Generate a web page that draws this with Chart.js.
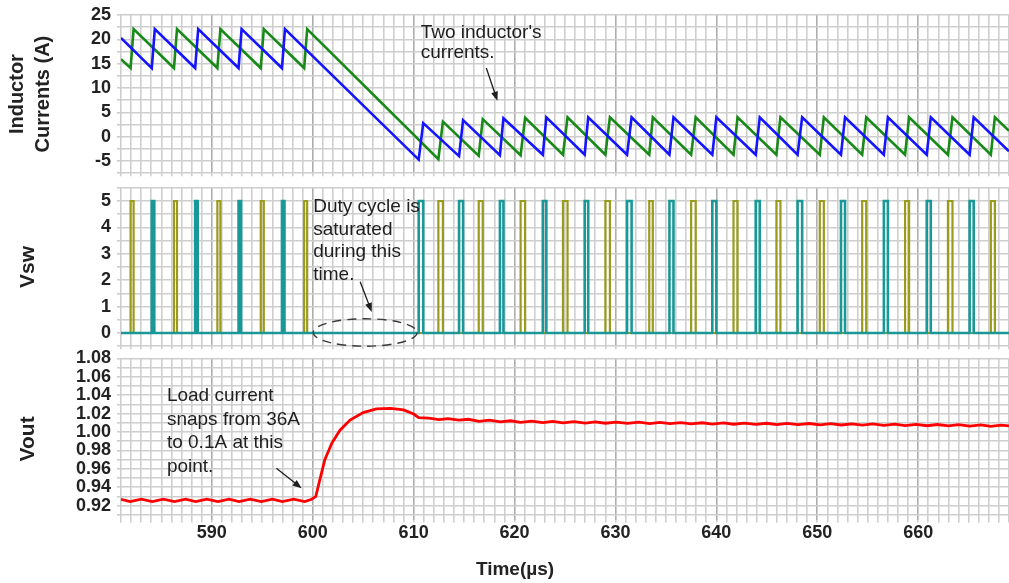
<!DOCTYPE html>
<html><head><meta charset="utf-8">
<script src="https://cdn.jsdelivr.net/npm/chart.js@4.4.0/dist/chart.umd.min.js"></script>
<style>
html,body{margin:0;padding:0;background:#fff;}
#wrap{position:relative;width:1009px;height:583px;overflow:hidden;background:#fff;}
canvas{position:absolute;left:0;}
</style></head><body>
<div id="wrap">
<canvas id="c1" width="1009" height="178" style="top:0px;width:1009px;height:178px"></canvas>
<canvas id="c2" width="1009" height="172" style="top:178px;width:1009px;height:172px"></canvas>
<canvas id="c3" width="1009" height="233" style="top:350px;width:1009px;height:233px"></canvas>
</div>
<script>
// ---------------- data ----------------
const timeMin = 581, timeMax = 669;
const xTickLabels = [590, 600, 610, 620, 630, 640, 650, 660];

// Inductor current 1 (blue): vertex times (µs) and values (A)
const blueT = [581, 584.05, 584.35, 588.35, 588.65, 592.65, 592.95, 596.95, 597.25,
  610.5, 610.95, 614.5, 614.9, 618.55, 618.9, 622.8, 623.15, 626.95, 627.3, 631.15, 631.6,
  635.35, 635.75, 639.6, 640.0, 643.9, 644.3, 648.05, 648.5, 652.35, 652.75, 656.6, 657.0,
  660.85, 661.25, 665.1, 665.5, 669];
const blueI = [20.3, 14.1, 22.1, 14.1, 22.1, 14.1, 22.1, 14.1, 22.1,
  -4.7, 2.8, -4.0, 3.4, -3.8, 3.8, -3.7, 4.0, -3.7, 4.0, -3.7, 4.0,
  -3.7, 4.0, -3.7, 4.0, -3.7, 4.0, -3.7, 4.0, -3.7, 4.0, -3.7, 4.0,
  -3.7, 4.0, -3.7, 4.0, -3.0];

// Inductor current 2 (green)
const greenT = [581, 581.95, 582.25, 586.25, 586.55, 590.55, 590.85, 594.85, 595.15, 599.15, 599.45,
  612.45, 612.9, 616.45, 616.85, 620.6, 621.05, 624.8, 625.25, 629.0, 629.45, 633.35, 633.7,
  637.5, 637.95, 641.7, 642.1, 645.95, 646.35, 650.25, 650.65, 654.45, 654.85, 658.7, 659.1,
  662.95, 663.4, 667.2, 667.6, 669];
const greenI = [15.9, 14.1, 22.1, 14.1, 22.1, 14.1, 22.1, 14.1, 22.1, 14.1, 22.1,
  -4.6, 3.1, -3.9, 3.6, -3.8, 3.9, -3.7, 4.0, -3.7, 4.0, -3.7, 4.0,
  -3.7, 4.0, -3.7, 4.0, -3.7, 4.0, -3.7, 4.0, -3.7, 4.0, -3.7, 4.0,
  -3.7, 4.0, -3.7, 4.0, 1.2];

// Switch-node voltage pulses (µs): rising / falling edges
const tealOn  = [584.05, 588.35, 592.65, 596.95, 610.5, 614.5, 618.55, 622.8, 626.95, 631.15, 635.35, 639.6, 643.9, 648.05, 652.35, 656.6, 660.85, 665.1];
const tealOff = [584.3, 588.6, 592.9, 597.2, 610.95, 614.9, 618.9, 623.15, 627.3, 631.6, 635.75, 640.0, 644.3, 648.5, 652.75, 657.0, 661.25, 665.5];
const oliveOn  = [581.95, 586.25, 590.55, 594.85, 599.15, 612.45, 616.45, 620.6, 624.8, 629.0, 633.35, 637.5, 641.7, 645.95, 650.25, 654.45, 658.7, 662.95, 667.2];
const oliveOff = [582.25, 586.55, 590.85, 595.15, 599.45, 612.9, 616.85, 621.05, 625.25, 629.45, 633.7, 637.95, 642.1, 646.35, 650.65, 654.85, 659.1, 663.4, 667.6];
const vswHigh = 5, vswLow = 0;

// Output voltage (V)
const voutT = [581.0, 581.9, 583.0, 584.1, 585.2, 586.3, 587.4, 588.4, 589.5, 590.6, 591.7, 592.7,
  593.8, 594.9, 596.0, 597.0, 598.1, 599.2, 599.9, 600.3, 600.7, 601.2, 601.9, 602.7, 603.7,
  605.0, 606.3, 607.7, 609.0, 610.0, 610.5, 611.5, 612.5, 613.4, 614.5, 615.4, 616.5, 617.5,
  618.6, 619.6, 620.6, 621.7, 622.8, 623.8, 624.8, 625.9, 627.0, 628.0, 629.0, 630.1, 631.2,
  632.3, 633.4, 634.4, 635.4, 636.5, 637.5, 638.6, 639.6, 640.7, 641.7, 642.8, 643.9, 645.0,
  646.0, 647.0, 648.1, 649.2, 650.3, 651.3, 652.4, 653.4, 654.5, 655.5, 656.6, 657.7, 658.7,
  659.8, 660.9, 661.9, 663.0, 664.0, 665.1, 666.2, 667.2, 668.2, 669.0];
const voutV = [0.927, 0.9245, 0.927, 0.9245, 0.927, 0.9245, 0.927, 0.9245, 0.927, 0.9245, 0.927, 0.9245,
  0.927, 0.9245, 0.927, 0.9245, 0.927, 0.9245, 0.927, 0.930, 0.948, 0.970, 0.988, 1.002, 1.013,
  1.021, 1.025, 1.0257, 1.024, 1.0195, 1.0155, 1.015, 1.0135, 1.0145, 1.0128, 1.0138, 1.0115, 1.0128,
  1.0110, 1.0122, 1.0105, 1.0118, 1.0102, 1.0115, 1.0100, 1.0112, 1.0097, 1.0110, 1.0095, 1.0108, 1.0093,
  1.0106, 1.0090, 1.0104, 1.0090, 1.0102, 1.0088, 1.0100, 1.0086, 1.0098, 1.0084, 1.0097, 1.0083, 1.0095,
  1.0080, 1.0093, 1.0080, 1.0092, 1.0078, 1.0090, 1.0076, 1.0088, 1.0074, 1.0087, 1.0072, 1.0085, 1.0070,
  1.0083, 1.0068, 1.0081, 1.0066, 1.0080, 1.0064, 1.0078, 1.0062, 1.0075, 1.0066];

// Axis grid / tick label values
const iGrid = [-7.5, -5, -2.5, 0, 2.5, 5, 7.5, 10, 12.5, 15, 17.5, 20, 22.5, 25];
const iTickLabels = [-5, 0, 5, 10, 15, 20, 25];
const vswGrid = [-0.5, 0, 0.5, 1, 1.5, 2, 2.5, 3, 3.5, 4, 4.5, 5, 5.5];
const vswTickLabels = [0, 1, 2, 3, 4, 5];
const voutGrid = [0.91, 0.92, 0.93, 0.94, 0.95, 0.96, 0.97, 0.98, 0.99, 1.00, 1.01, 1.02, 1.03, 1.04, 1.05, 1.06, 1.07, 1.08];
const voutTickLabels = [0.92, 0.94, 0.96, 0.98, 1.00, 1.02, 1.04, 1.06, 1.08];

// ---------------- helpers ----------------
const pts = (T, V) => T.map((t, i) => ({x: t, y: V[i]}));
function pulsePts(on, off) {
  const out = [{x: timeMin, y: vswLow}];
  on.forEach((t, i) => {
    out.push({x: t, y: vswLow}, {x: t, y: vswHigh}, {x: off[i], y: vswHigh}, {x: off[i], y: vswLow});
  });
  out.push({x: timeMax, y: vswLow});
  return out;
}
const FONT = '"Liberation Sans", Arial, Helvetica, sans-serif';
const gridCol = c => (c.tick && Math.abs(c.tick.value % 10) < 1e-9) ? '#aeaeae' : '#cecece';
const noPad = s => { s.paddingTop = 0; s.paddingBottom = 0; s.paddingLeft = 0; s.paddingRight = 0; };

function xAxis(showLabels) {
  return {
    type: 'linear', min: timeMin, max: timeMax,
    border: {display: false},
    afterFit: noPad,
    grid: {color: gridCol, lineWidth: 1.6, drawTicks: true, tickLength: 3, tickColor: '#cecece'},
    ticks: {display: showLabels, stepSize: 1, autoSkip: false, maxRotation: 0, padding: 0,
      color: '#222', font: {family: FONT, size: 18, weight: 'bold'},
      callback: v => xTickLabels.includes(v) ? String(v) : ''}
  };
}
function yAxis(min, max, grid, labels, fmt, title, titleSize, titlePad) {
  return {
    type: 'linear', min, max,
    border: {display: false},
    afterBuildTicks: s => { s.ticks = grid.map(v => ({value: v})); },
    afterFit: s => { s.width = 121; noPad(s); },
    grid: {color: '#cecece', lineWidth: 1.6, drawTicks: true, tickLength: 4, tickColor: '#cecece'},
    ticks: {autoSkip: false, padding: 6, color: '#222', font: {family: FONT, size: 18, weight: 'bold'},
      callback: v => labels.some(l => Math.abs(l - v) < 1e-9) ? fmt(v) : ''},
    title: {display: true, text: title, color: '#222', padding: {top: titlePad, bottom: 0},
      font: {family: FONT, size: titleSize, weight: 'bold', lineHeight: 1.3}}
  };
}
function notesPlugin(items, extra) {
  return {
    id: 'notes',
    afterDatasetsDraw(chart) {
      const ctx = chart.ctx, xs = chart.scales.x, ys = chart.scales.y;
      const px = v => xs.getPixelForValue(v), py = v => ys.getPixelForValue(v);
      ctx.save();
      ctx.fillStyle = '#1e1e1e'; ctx.strokeStyle = '#1e1e1e';
      ctx.font = '19px ' + FONT;
      ctx.textBaseline = 'middle'; ctx.textAlign = 'left';
      for (const it of items) {
        if (it.type === 'text') {
          it.lines.forEach((s, i) => ctx.fillText(s, px(it.x), py(it.y[i])));
        } else if (it.type === 'arrow') {
          const x1 = px(it.x1), y1 = py(it.y1), x2 = px(it.x2), y2 = py(it.y2);
          const a = Math.atan2(y2 - y1, x2 - x1);
          ctx.lineWidth = 1.3;
          ctx.beginPath(); ctx.moveTo(x1, y1); ctx.lineTo(x2 - 6 * Math.cos(a), y2 - 6 * Math.sin(a)); ctx.stroke();
          ctx.beginPath();
          ctx.moveTo(x2, y2);
          ctx.lineTo(x2 - 9 * Math.cos(a) + 3.5 * Math.sin(a), y2 - 9 * Math.sin(a) - 3.5 * Math.cos(a));
          ctx.lineTo(x2 - 9 * Math.cos(a) - 3.5 * Math.sin(a), y2 - 9 * Math.sin(a) + 3.5 * Math.cos(a));
          ctx.closePath(); ctx.fill();
        } else if (it.type === 'ellipse') {
          ctx.strokeStyle = '#3a3a3a'; ctx.lineWidth = 1.4; ctx.setLineDash([9, 6]);
          ctx.beginPath();
          ctx.ellipse(px(it.x), py(it.y), Math.abs(px(it.x + it.rx) - px(it.x)), Math.abs(py(it.y + it.ry) - py(it.y)), 0, 0, 2 * Math.PI);
          ctx.stroke(); ctx.setLineDash([]); ctx.strokeStyle = '#1e1e1e';
        }
      }
      if (extra) extra(chart, ctx);
      ctx.restore();
    }
  };
}
const common = {responsive: false, maintainAspectRatio: false, animation: false, devicePixelRatio: 1,
  events: [], plugins: {legend: {display: false}, tooltip: {enabled: false}}};

// ---------------- chart 1: inductor currents ----------------
new Chart(document.getElementById('c1'), {
  type: 'line',
  data: {datasets: [
    {data: pts(blueT, blueI), borderColor: '#1414ff', borderWidth: 2.6, pointRadius: 0, tension: 0},
    {data: pts(greenT, greenI), borderColor: '#178a17', borderWidth: 2.6, pointRadius: 0, tension: 0}
  ]},
  options: Object.assign({}, common, {
    layout: {padding: {top: 15, bottom: 1.8, left: 0, right: 0}},
    scales: {x: xAxis(false), y: yAxis(-7.5, 25, iGrid, iTickLabels, v => String(v), ['Inductor', 'Currents (A)'], 20, 4)}
  }),
  plugins: [notesPlugin([
    {type: 'text', x: 610.7, y: [21.3, 17.2], lines: ["Two inductor's", 'currents.']},
    {type: 'arrow', x1: 617.2, y1: 14.1, x2: 618.3, y2: 7.4}
  ])]
});

// ---------------- chart 2: Vsw ----------------
new Chart(document.getElementById('c2'), {
  type: 'line',
  data: {datasets: [
    {data: pulsePts(tealOn, tealOff), borderColor: '#1a9797', borderWidth: 2.6, pointRadius: 0, tension: 0},
    {data: pulsePts(oliveOn, oliveOff), borderColor: '#9a9a1c', borderWidth: 2.2, pointRadius: 0, tension: 0}
  ]},
  options: Object.assign({}, common, {
    layout: {padding: {top: 9.8, bottom: 0.8, left: 0, right: 0}},
    scales: {x: xAxis(false), y: yAxis(-0.5, 5.5, vswGrid, vswTickLabels, v => String(v), 'Vsw', 21, 15)}
  }),
  plugins: [notesPlugin([
    {type: 'text', x: 600.05, y: [4.77, 3.9, 3.07, 2.2], lines: ['Duty cycle is', 'saturated', 'during this', 'time.']},
    {type: 'arrow', x1: 604.7, y1: 1.94, x2: 605.85, y2: 0.8},
    {type: 'ellipse', x: 605.2, y: 0.02, rx: 5.15, ry: 0.52}
  ])]
});

// ---------------- chart 3: Vout ----------------
new Chart(document.getElementById('c3'), {
  type: 'line',
  data: {datasets: [
    {data: pts(voutT, voutV), borderColor: '#ff0000', borderWidth: 2.8, pointRadius: 0, tension: 0}
  ]},
  options: Object.assign({}, common, {
    layout: {padding: {top: 8.3, bottom: 38.9, left: 0, right: 0}},
    scales: {x: xAxis(true), y: yAxis(0.905, 1.08, voutGrid, voutTickLabels, v => v.toFixed(2), 'Vout', 21, 15)}
  }),
  plugins: [notesPlugin([
    {type: 'text', x: 585.55, y: [1.0391, 1.0133, 0.9883, 0.9622], lines: ['Load current', 'snaps from 36A', 'to 0.1A at this', 'point.']},
    {type: 'arrow', x1: 596.4, y1: 0.9606, x2: 598.9, y2: 0.9389}
  ], (chart, ctx) => {
    ctx.fillStyle = '#222';
    ctx.font = 'bold 19px ' + FONT;
    ctx.textAlign = 'center'; ctx.textBaseline = 'middle';
    ctx.fillText('Time(µs)', 515, 220);
  })]
});
</script>
</body></html>
